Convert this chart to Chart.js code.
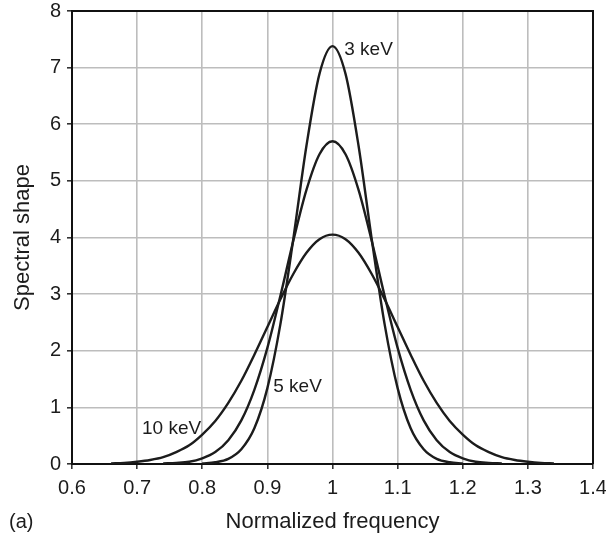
<!DOCTYPE html>
<html>
<head>
<meta charset="utf-8">
<script src="https://cdn.jsdelivr.net/npm/chart.js@4/dist/chart.umd.min.js"></script>
<style>
    html, body { margin: 0; padding: 0; background: #fff; }
    #wrap { width: 606px; height: 539px; position: relative; }
</style>
</head>
<body>
<div id="wrap"><canvas id="spectrum"></canvas></div>
<script>
// frequencies (normalized) and spectral shape
const freq3 = [0.80,0.82,0.84,0.86,0.88,0.90,0.92,0.94,0.96,0.98,1.00,1.02,1.04,1.06,1.08,1.10,1.12,1.14,1.16,1.18,1.20]
const shape3 = [0.01,0.03,0.09,0.26,0.63,1.34,2.47,3.99,5.62,6.89,7.38,6.89,5.62,3.99,2.47,1.34,0.63,0.26,0.09,0.03,0.01]

const freq5 = [0.74,0.76,0.78,0.80,0.82,0.84,0.86,0.88,0.90,0.92,0.94,0.96,0.98,1.00,1.02,1.04,1.06,1.08,1.10,1.12,1.14,1.16,1.18,1.20,1.22,1.24,1.26]
const shape5 = [0.01,0.02,0.04,0.10,0.21,0.42,0.77,1.31,2.05,2.97,3.95,4.84,5.47,5.70,5.47,4.84,3.95,2.97,2.05,1.31,0.77,0.42,0.21,0.10,0.04,0.02,0.01]

const freq10 = [0.66,0.68,0.70,0.72,0.74,0.76,0.78,0.80,0.82,0.84,0.86,0.88,0.90,0.92,0.94,0.96,0.98,1.00,1.02,1.04,1.06,1.08,1.10,1.12,1.14,1.16,1.18,1.20,1.22,1.24,1.26,1.28,1.30,1.32,1.34]
const shape10 = [0.01,0.02,0.04,0.07,0.12,0.21,0.33,0.52,0.76,1.08,1.47,1.93,2.42,2.91,3.36,3.73,3.97,4.05,3.97,3.73,3.36,2.91,2.42,1.93,1.47,1.08,0.76,0.52,0.33,0.21,0.12,0.07,0.04,0.02,0.01]

const xTickLabels = ['0.6','0.7','0.8','0.9','1','1.1','1.2','1.3','1.4']
const yTickLabels = ['0','1','2','3','4','5','6','7','8']

// curve labels: text, anchor frequency, anchor shape value
const curveLabels = [
    ['3 keV', 1.018, 7.31],
    ['5 keV', 0.909, 1.36],
    ['10 keV', 0.7075, 0.62]
]

const FONT = '"Liberation Sans", Arial, Helvetica, sans-serif'
const INK = '#1c1c1c'

function toPoints(xs, ys){
    return xs.map((x, i) => ({x, y: ys[i]}))
}

function curve(label, xs, ys){
    return {
        label,
        data: toPoints(xs, ys),
        borderColor: INK,
        borderWidth: 2.4,
        pointRadius: 0,
        fill: false,
        cubicInterpolationMode: 'monotone'
    }
}

const annotate = {
    id: 'annotate',
    afterDraw(chart){
        const {ctx, chartArea, scales} = chart
        ctx.save()
        // top and right frame lines
        ctx.strokeStyle = '#111'
        ctx.lineWidth = 2
        ctx.beginPath()
        ctx.moveTo(chartArea.left, chartArea.top)
        ctx.lineTo(chartArea.right, chartArea.top)
        ctx.lineTo(chartArea.right, chartArea.bottom)
        ctx.stroke()

        ctx.fillStyle = INK
        ctx.font = '19px ' + FONT
        ctx.textAlign = 'left'
        ctx.textBaseline = 'middle'
        curveLabels.forEach(([text, fx, fy]) => {
            ctx.fillText(text, scales.x.getPixelForValue(fx), scales.y.getPixelForValue(fy))
        })

        ctx.font = '20px ' + FONT
        ctx.fillText('(a)', 9, 522)
        ctx.restore()
    }
}

new Chart(document.getElementById('spectrum'), {
    type: 'line',
    data: {
        datasets: [
            curve('3 keV', freq3, shape3),
            curve('5 keV', freq5, shape5),
            curve('10 keV', freq10, shape10)
        ]
    },
    options: {
        responsive: true,
        maintainAspectRatio: false,
        animation: false,
        layout: {padding: {left: 0, right: 0, top: 1, bottom: 0}},
        plugins: {
            legend: {display: false},
            tooltip: {enabled: false}
        },
        scales: {
            x: {
                type: 'linear',
                min: 0.6,
                max: 1.4,
                afterFit(scale){
                    scale.height = 75
                    scale.paddingRight = 13
                },
                afterBuildTicks(scale){
                    scale.ticks = xTickLabels.map(t => ({value: parseFloat(t)}))
                },
                ticks: {
                    autoSkip: false,
                    maxRotation: 0,
                    padding: 7,
                    color: INK,
                    font: {family: FONT, size: 20},
                    callback: (v, i) => xTickLabels[i]
                },
                grid: {color: '#bdbdbd', lineWidth: 1.6, tickLength: 5, tickColor: '#333'},
                border: {color: '#111', width: 2},
                title: {
                    display: true,
                    text: 'Normalized frequency',
                    color: INK,
                    font: {family: FONT, size: 22},
                    padding: {top: 0, bottom: 4}
                }
            },
            y: {
                min: 0,
                max: 8,
                afterFit(scale){
                    scale.width = 72
                    scale.paddingTop = 11
                },
                ticks: {
                    stepSize: 1,
                    padding: 6,
                    color: INK,
                    font: {family: FONT, size: 20},
                    callback: v => yTickLabels[v]
                },
                grid: {color: '#bdbdbd', lineWidth: 1.6, tickLength: 5, tickColor: '#333'},
                border: {color: '#111', width: 2},
                title: {
                    display: true,
                    text: 'Spectral shape',
                    color: INK,
                    font: {family: FONT, size: 22},
                    padding: {top: 10, bottom: 0}
                }
            }
        }
    },
    plugins: [annotate]
})
</script>
</body>
</html>
